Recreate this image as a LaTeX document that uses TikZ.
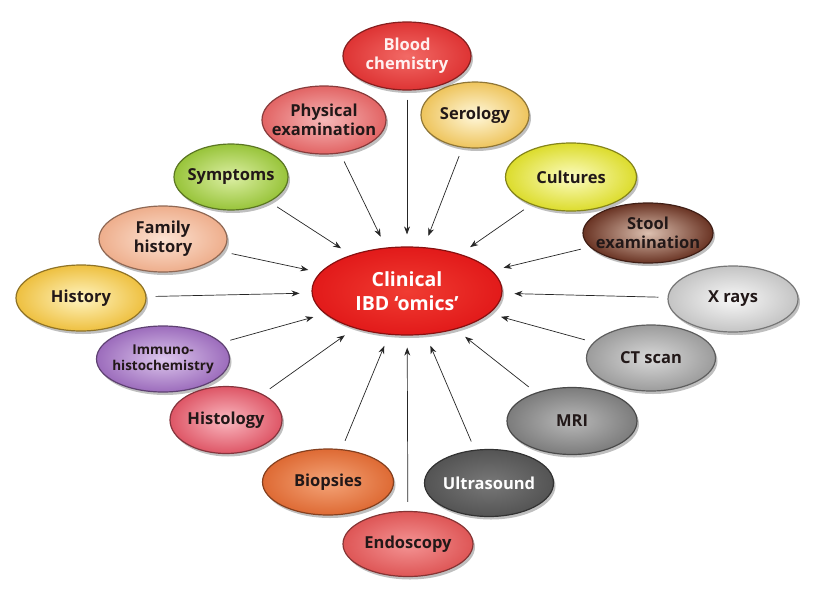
\documentclass[tikz,border=0pt]{standalone}
\usepackage{fontspec}
\setmainfont{Open Sans}
\usetikzlibrary{shapes.geometric,shadows,arrows.meta}
\definecolor{txtdark}{HTML}{221818}
\definecolor{txtpink}{HTML}{FFF0F0}
\tikzset{
  bub/.style n args={2}{/utils/exec={\definecolor{bi}{HTML}{#1}\definecolor{bo}{HTML}{#2}},
    ellipse, inner sep=-30pt, minimum width=130pt, minimum height=66pt,
    inner color=bi, outer color=bo, draw=bo!60!black, line width=1.2pt,
    drop shadow={shadow xshift=2pt, shadow yshift=-3pt, opacity=0.5},
    font=\bfseries\fontsize{16.5}{19}\selectfont, text=txtdark, align=center},
  wtxt/.style={text=white},
  conn/.style={-{Stealth[length=8pt,width=6pt]}, line width=0.7pt, black!85,
    shorten <=9pt, shorten >=12pt}
}
\begin{document}
\begin{tikzpicture}[x=1pt,y=-1pt]
\useasboundingbox (0,0) rectangle (813,594);
\node[bub={F03C32}{E21A1A}, wtxt, minimum width=190pt, minimum height=88pt,
  font=\bfseries\fontsize{19.5}{24}\selectfont] (c) at (407,291) {Clinical\\IBD ‘omics’};
\node[bub={F26A66}{DE3434}, text=txtpink, minimum width=128pt, minimum height=68pt] (blood) at (407,56) {Blood\\chemistry};
\node[bub={F6B8B8}{E26464}, minimum width=124pt, minimum height=68pt] (phys) at (324,120) {Physical\\examination};
\node[bub={FFF8DC}{EEC45C}, minimum width=108pt, minimum height=66pt] (sero) at (475,115) {Serology};
\node[bub={DCEFA4}{98C43A}, minimum width=114pt, minimum height=66pt] (symp) at (231,177) {Symptoms};
\node[bub={FCFCC0}{DCDC2C}, minimum width=131pt, minimum height=68pt] (cult) at (571,177) {Cultures};
\node[bub={FCE2D2}{EEAE8C}, minimum width=128pt, minimum height=66pt] (fam) at (163,239) {Family\\history};
\node[bub={DCC0B0}{6A3424}, minimum width=130pt, minimum height=60pt] (stool) at (648,233) {Stool\\examination};
\node[bub={FFF4C0}{EEC040}, minimum width=130pt, minimum height=66pt] (hist) at (81,298) {History};
\node[bub={F8F8F8}{C4C4C4}, minimum width=130pt, minimum height=66pt] (xray) at (733,299) {X rays};
\node[bub={DCC6EC}{9C6CBC}, minimum width=133pt, minimum height=66pt,
  font=\bfseries\fontsize{13.5}{16}\selectfont] (immu) at (163,359) {Immuno-\\histochemistry};
\node[bub={D8D8D8}{9C9C9C}, minimum width=129pt, minimum height=66pt] (ct) at (651,358) {CT scan};
\node[bub={FAB8C0}{DE5666}, minimum width=112pt, minimum height=67pt] (histo) at (226,420) {Histology};
\node[bub={B8B8B8}{7C7C7C}, minimum width=130pt, minimum height=67pt] (mri) at (572,421) {MRI};
\node[bub={F4A478}{DE6A34}, minimum width=131pt, minimum height=66pt] (biop) at (328,482) {Biopsies};
\node[bub={787878}{545454}, wtxt, minimum width=129pt, minimum height=67pt] (ultra) at (489,483) {Ultrasound};
\node[bub={F49494}{DE5656}, minimum width=130pt, minimum height=65pt] (endo) at (408,544) {Endoscopy};
\foreach \n in {blood,phys,sero,symp,cult,fam,stool,hist,xray,immu,ct,histo,mri,biop,ultra,endo}
  \draw[conn] (\n) -- (c);
\end{tikzpicture}
\end{document}
